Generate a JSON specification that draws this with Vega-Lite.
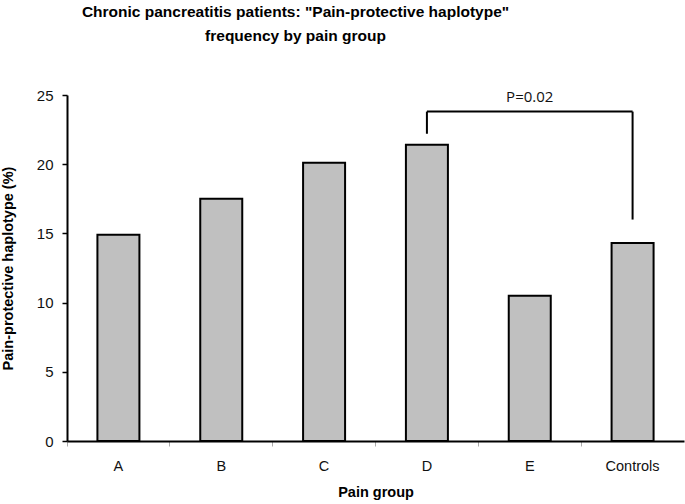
{
  "$schema": "https://vega.github.io/schema/vega-lite/v6.json",
  "autosize": "none",
  "width": 617,
  "height": 346,
  "padding": {"left": 67, "top": 95, "right": 1, "bottom": 63},
  "background": "white",
  "title": {
    "text": ["Chronic pancreatitis patients: \"Pain-protective haplotype\"", "frequency by pain group"],
    "font": "Liberation Sans",
    "fontSize": 15.5,
    "fontWeight": "bold",
    "lineHeight": 24,
    "color": "#000000",
    "anchor": "middle",
    "frame": "group",
    "dx": -80,
    "offset": 44
  },
  "config": {
    "view": {"stroke": null},
    "axis": {"labelFont": "Liberation Sans", "titleFont": "Liberation Sans", "labelColor": "#111111", "titleColor": "#000000", "grid": false}
  },
  "layer": [
    {
      "data": {"values": [
        {"group": "A", "value": 14.9},
        {"group": "B", "value": 17.5},
        {"group": "C", "value": 20.1},
        {"group": "D", "value": 21.4},
        {"group": "E", "value": 10.5},
        {"group": "Controls", "value": 14.3}
      ]},
      "mark": {"type": "bar", "size": 42, "fill": "#c0c0c0", "stroke": "#000000", "strokeWidth": 2},
      "encoding": {
        "x": {
          "field": "group", "type": "nominal", "sort": null,
          "scale": {"domain": ["A", "B", "C", "D", "E", "Controls"], "paddingInner": 0, "paddingOuter": 0},
          "axis": {
            "title": "Pain group", "titleFontSize": 14.5, "titleFontWeight": "bold", "titlePadding": 13,
            "labelAngle": 0, "labelFontSize": 14.5, "labelPadding": 13,
            "domainColor": "#000000", "domainWidth": 2,
            "tickColor": "#aaaaaa", "tickSize": 5, "tickWidth": 1, "bandPosition": 0
          }
        },
        "y": {
          "field": "value", "type": "quantitative",
          "scale": {"domain": [0, 25], "nice": false},
          "axis": {
            "title": "Pain-protective haplotype (%)", "titleFontSize": 14.5, "titleFontWeight": "bold", "titlePadding": 21,
            "values": [0, 5, 10, 15, 20, 25], "labelFontSize": 15, "labelPadding": 9,
            "domainColor": "#000000", "domainWidth": 2,
            "tickColor": "#000000", "tickSize": 5, "tickWidth": 1.5
          }
        }
      }
    },
    {
      "data": {"values": [
        {"g": "D", "g2": "Controls", "y": 23.8, "y2": 23.8},
        {"g": "D", "g2": "D", "y": 22.2, "y2": 23.8},
        {"g": "Controls", "g2": "Controls", "y": 16.0, "y2": 23.8}
      ]},
      "mark": {"type": "rule", "color": "#000000", "strokeWidth": 2},
      "encoding": {
        "x": {"field": "g", "type": "nominal", "sort": null},
        "x2": {"field": "g2"},
        "y": {"field": "y", "type": "quantitative"},
        "y2": {"field": "y2"}
      }
    },
    {
      "data": {"values": [{"g": "E", "y": 24.85, "label": "P=0.02"}]},
      "mark": {"type": "text", "font": "Open Sans", "fontSize": 15, "color": "#111111", "baseline": "middle", "align": "center"},
      "encoding": {
        "x": {"field": "g", "type": "nominal", "sort": null},
        "y": {"field": "y", "type": "quantitative"},
        "text": {"field": "label"}
      }
    }
  ]
}
